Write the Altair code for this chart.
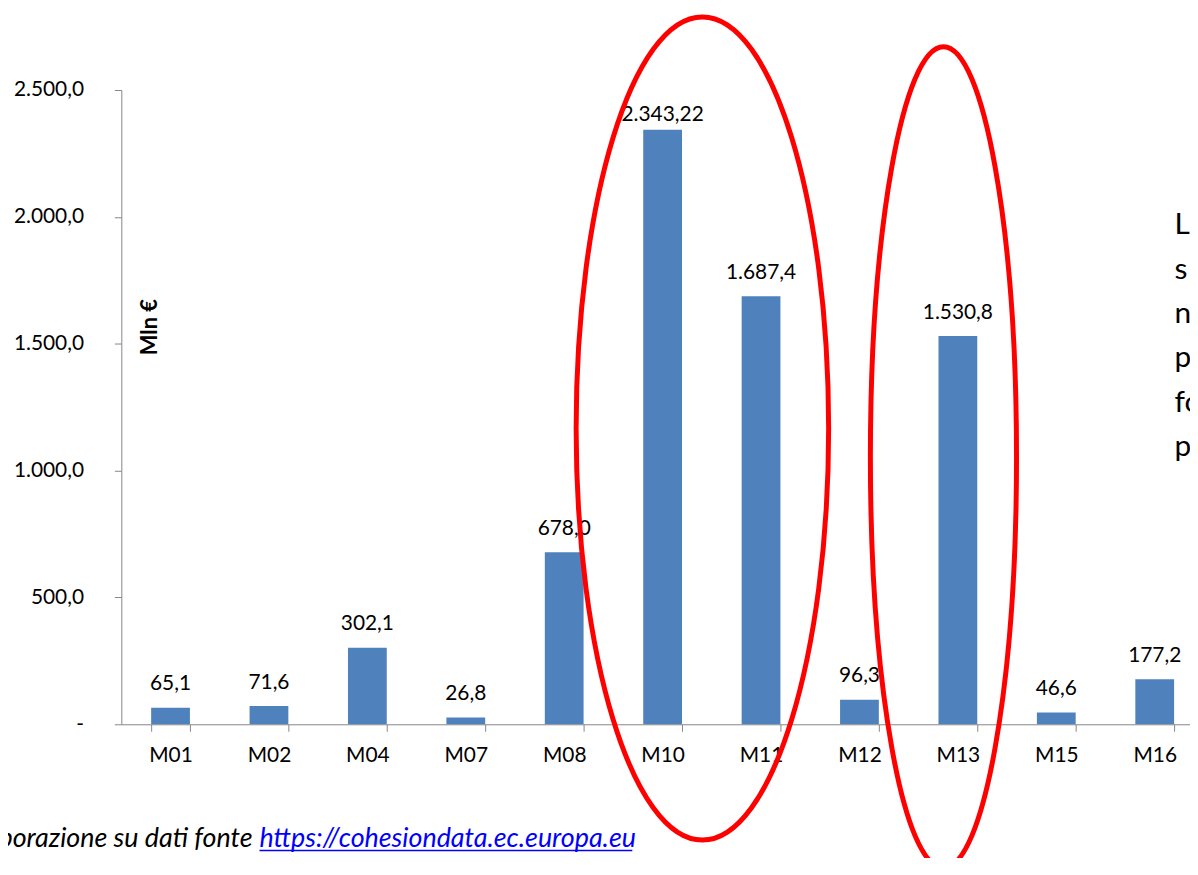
import altair as alt
import pandas as pd

# ---- data ----
categories = ["M01", "M02", "M04", "M07", "M08", "M10", "M11", "M12", "M13", "M15", "M16"]
values = [65.1, 71.6, 302.1, 26.8, 678.0, 2343.22, 1687.4, 96.3, 1530.8, 46.6, 177.2]
value_labels = ["65,1", "71,6", "302,1", "26,8", "678,0", "2.343,22", "1.687,4",
                "96,3", "1.530,8", "46,6", "177,2"]
y_ticks = [0, 500, 1000, 1500, 2000, 2500]
y_title = "Mln €"
side_text_lines = ["L", "s", "n", "p", "fo", "p"]
source_prefix = "Elaborazione su dati fonte"
source_url = "https://cohesiondata.ec.europa.eu"

df = pd.DataFrame({"cat": categories, "value": values, "label": value_labels})

FONT = "Lato"
GREY = "#868686"
BAR = "#4F81BD"

x_scale = alt.Scale(domain=categories, range=[0, 1089], paddingInner=0.606, paddingOuter=0.303)
y_scale = alt.Scale(domain=[0, 2500], nice=False, zero=True)

label_expr = (
    "datum.value == 0 ? '-\u00a0\u00a0' : "
    "replace(replace(replace(format(datum.value, ',.1f'), ',', '#'), '.', ','), '#', '.')"
)

base = alt.Chart(df)

bars = base.mark_bar(color=BAR).encode(
    x=alt.X("cat:N", sort=categories, scale=x_scale,
            axis=alt.Axis(title=None, tickBand="extent", tickSize=7, tickColor=GREY,
                          domainColor=GREY, labelFont=FONT, labelFontSize=21,
                          labelColor="black", labelPadding=24, labelBaseline="middle",
                          labelAngle=0)),
    y=alt.Y("value:Q", scale=y_scale,
            axis=alt.Axis(values=y_ticks, labelExpr=label_expr, grid=False,
                          tickSize=7, tickColor=GREY, domainColor=GREY,
                          labelFont=FONT, labelFontSize=21, labelColor="black",
                          labelPadding=31, title=y_title, titleAngle=270,
                          titleX=28, titleY=238, titleAlign="center",
                          titleBaseline="middle", titleFont=FONT,
                          titleFontSize=22, titleFontWeight="bold",
                          titleColor="black")),
)

labels = base.transform_calculate(
    label_y="min(datum.value + 68.6, 2377)"
).mark_text(font=FONT, fontSize=21, baseline="alphabetic", color="black").encode(
    x=alt.X("cat:N", sort=categories, scale=x_scale),
    y=alt.Y("label_y:Q", scale=y_scale),
    text="label:N",
)

one = pd.DataFrame({"k": [0]})

side_text = alt.Chart(one).mark_text(
    font=FONT, fontSize=30, align="left", baseline="alphabetic",
    lineBreak="\n", lineHeight=44.6, color="black"
).encode(x=alt.value(1059.5), y=alt.value(145), text=alt.value("\n".join(side_text_lines)))

footer_a = alt.Chart(one).mark_text(
    font=FONT, fontSize=27, fontStyle="italic", align="right", baseline="alphabetic",
    color="black"
).encode(x=alt.value(132), y=alt.value(761), text=alt.value(source_prefix))

footer_b = alt.Chart(one).mark_text(
    font=FONT, fontSize=27, fontStyle="italic", align="left", baseline="alphabetic",
    color="#0000FF"
).encode(x=alt.value(139), y=alt.value(761), text=alt.value(source_url))

underline = alt.Chart(one).mark_rule(color="#0000FF", strokeWidth=1.5).encode(
    x=alt.value(139), x2=alt.value(514), y=alt.value(765)
)

ell1 = "M -127 0 A 127 414 0 1 0 127 0 A 127 414 0 1 0 -127 0 Z"
ell2 = "M -73.5 0 A 73.5 413 0 1 0 73.5 0 A 73.5 413 0 1 0 -73.5 0 Z"

ellipse1 = alt.Chart(one).mark_point(
    shape=ell1, size=4, filled=False, stroke="#FF0000", strokeWidth=5, opacity=1
).encode(x=alt.value(584.5), y=alt.value(340.5))

ellipse2 = alt.Chart(one).mark_point(
    shape=ell2, size=4, filled=False, stroke="#FF0000", strokeWidth=5, opacity=1
).encode(x=alt.value(827), y=alt.value(369.5))

chart = alt.layer(
    bars, labels, side_text, footer_a, footer_b, underline, ellipse1, ellipse2
).properties(
    width=1075, height=638,
    autosize=alt.AutoSizeParams(type="none"),
    padding={"left": 114, "top": 80, "right": 0, "bottom": 132},
    background="white",
).configure_view(stroke=None)

chart.save("out.html", embed_options={"renderer": "svg", "actions": False})
